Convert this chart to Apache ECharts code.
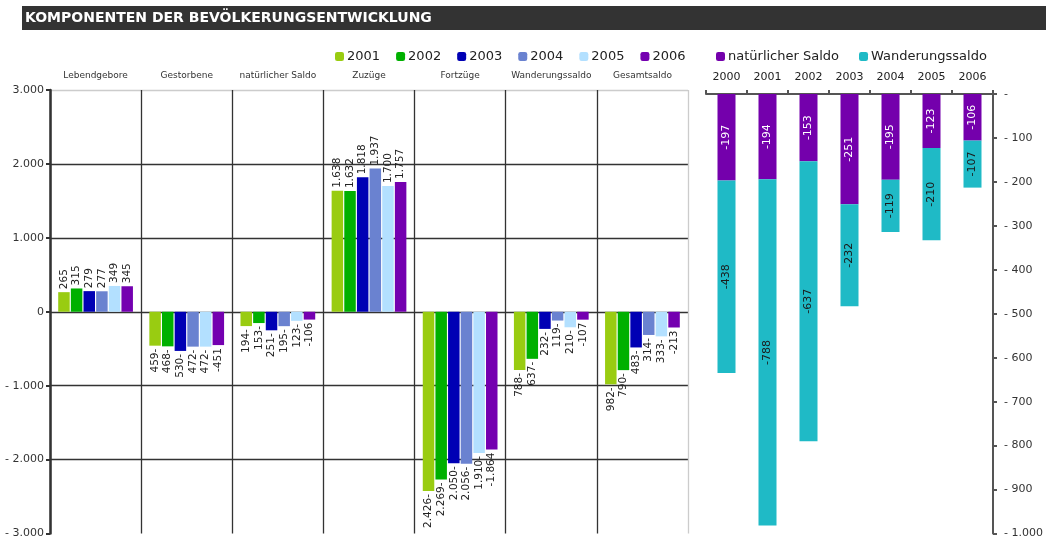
<!DOCTYPE html>
<html><head><meta charset="utf-8">
<script src="https://cdn.jsdelivr.net/npm/echarts@6/dist/echarts.min.js"></script>
<style>html,body{margin:0;padding:0;background:#fff}#c{width:1046px;height:539px}</style>
</head><body><div id="c"></div>
<script>
const title = 'KOMPONENTEN DER BEVÖLKERUNGSENTWICKLUNG';
const components = ['Lebendgebore', 'Gestorbene', 'natürlicher Saldo', 'Zuzüge', 'Fortzüge', 'Wanderungssaldo', 'Gesamtsaldo'];
const years = ['2001', '2002', '2003', '2004', '2005', '2006'];
const v2001 = [265, -459, -194, 1638, -2426, -788, -982];
const v2002 = [315, -468, -153, 1632, -2269, -637, -790];
const v2003 = [279, -530, -251, 1818, -2050, -232, -483];
const v2004 = [277, -472, -195, 1937, -2056, -119, -314];
const v2005 = [349, -472, -123, 1700, -1910, -210, -333];
const v2006 = [345, -451, -106, 1757, -1864, -107, -213];
const yearColors = ['#99cc11', '#00b000', '#0000b4', '#6a82d0', '#b3e0ff', '#7400b0'];

const saldoYears = ['2000', '2001', '2002', '2003', '2004', '2005', '2006'];
const natSaldo = [-197, -194, -153, -251, -195, -123, -106];
const wandSaldo = [-438, -788, -637, -232, -119, -210, -107];
const saldoNames = ['natürlicher Saldo', 'Wanderungssaldo'];
const saldoColors = ['#7400ac', '#1fbac6'];

const FONT = 'DejaVu Sans';
function fmt(n) { return String(Math.round(n)).replace(/\B(?=(\d{3})+(?!\d))/g, '.'); }
function yfmt(v) { if (v === 0) return '0'; return (v < 0 ? '- ' : '') + fmt(Math.abs(v)); }

const yearVals = [v2001, v2002, v2003, v2004, v2005, v2006];
const leftSeries = yearVals.map((arr, si) => ({
  name: years[si], type: 'bar', xAxisIndex: 0, yAxisIndex: 0,
  barCategoryGap: '18%', barGap: '10%',
  itemStyle: { color: yearColors[si] },
  data: arr.map(v => ({
    value: v,
    label: { position: v >= 0 ? 'top' : 'bottom', align: v >= 0 ? 'left' : 'right' }
  })),
  label: {
    show: true, rotate: 90, verticalAlign: 'middle', distance: 3,
    fontFamily: FONT, fontSize: 10.5, color: '#222',
    formatter: p => { const v = p.value; const s = fmt(Math.abs(v)); if (v >= 0) return s; return si === 5 ? '-' + s : s + '-'; }
  }
}));

const rightSeries = [natSaldo, wandSaldo].map((arr, i) => ({
  name: saldoNames[i], type: 'bar', stack: 'saldo', xAxisIndex: 1, yAxisIndex: 1,
  barWidth: 18, itemStyle: { color: saldoColors[i] }, data: arr,
  label: { show: true, position: 'inside', rotate: 90, fontFamily: FONT, fontSize: 11,
    color: i === 0 ? '#fff' : '#1a1a1a', formatter: p => '-' + fmt(Math.abs(p.value)) }
}));

const chart = echarts.init(document.getElementById('c'));
chart.setOption({
  animation: false,
  textStyle: { fontFamily: FONT },
  graphic: [
    { type: 'rect', shape: { x: 22, y: 6, width: 1024, height: 24 }, style: { fill: '#333333' } },
    { type: 'text', x: 25, y: 18, style: { text: title, fill: '#fff', font: 'bold 14px "DejaVu Sans"', textVerticalAlign: 'middle' } }
  ],
  legend: [
    { data: years, left: 330, top: 45, itemWidth: 9, itemHeight: 9, itemGap: 16,
      textStyle: { fontFamily: FONT, fontSize: 13, color: '#222', padding: [0, 0, 0, -2] } },
    { data: saldoNames, left: 711, top: 45, itemWidth: 9, itemHeight: 9, itemGap: 20,
      textStyle: { fontFamily: FONT, fontSize: 13, color: '#222', padding: [0, 0, 0, -2] } }
  ],
  grid: [
    { left: 50, right: 358, top: 90, bottom: 4 },
    { left: 706, right: 53, top: 94, bottom: 4 }
  ],
  xAxis: [
    { type: 'category', gridIndex: 0, data: components, position: 'top',
      axisLine: { show: false }, axisTick: { show: false },
      axisLabel: { fontSize: 9, color: '#333', margin: 10, interval: 0 },
      splitLine: { show: true, lineStyle: { color: ['#333', '#333', '#333', '#333', '#333', '#333', '#333', '#ccc'], width: 1.3 } } },
    { type: 'category', gridIndex: 1, data: saldoYears, position: 'top',
      axisLine: { show: true, lineStyle: { color: '#555', width: 2 } },
      axisTick: { show: true, length: 4, lineStyle: { color: '#555', width: 2 } },
      axisLabel: { fontSize: 11, color: '#222', margin: 11, interval: 0 } }
  ],
  yAxis: [
    { type: 'value', gridIndex: 0, min: -3000, max: 3000, interval: 1000,
      axisLine: { show: true, lineStyle: { color: '#333', width: 2.5 } },
      axisTick: { show: true, length: 4, lineStyle: { color: '#333', width: 2 } },
      axisLabel: { fontSize: 11, color: '#333', margin: 6, formatter: yfmt },
      splitLine: { show: true, lineStyle: { color: ['rgba(0,0,0,0)', '#333', '#333', '#333', '#333', '#333', '#ccc'], width: 1.3 } } },
    { type: 'value', gridIndex: 1, min: -1000, max: 0, interval: 100, position: 'right',
      axisLine: { show: true, lineStyle: { color: '#555', width: 2 } },
      axisTick: { show: true, length: 4, lineStyle: { color: '#555', width: 2 } },
      axisLabel: { fontSize: 11, color: '#333', margin: 11, formatter: v => v === 0 ? '-' : '- ' + fmt(Math.abs(v)) },
      splitLine: { show: false } }
  ],
  series: leftSeries.concat(rightSeries)
});
</script></body></html>
